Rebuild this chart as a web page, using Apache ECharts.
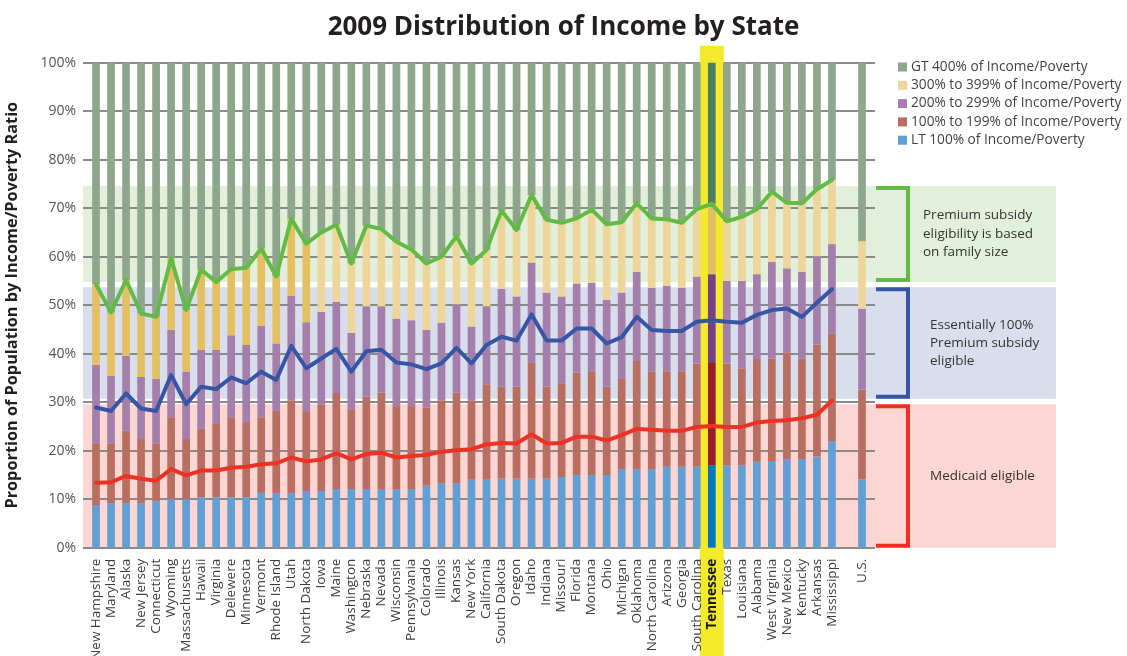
<!DOCTYPE html>
<html>
<head>
<meta charset="utf-8">
<script src="https://cdn.jsdelivr.net/npm/echarts@6/dist/echarts.min.js"></script>
<style>
  html, body { margin: 0; padding: 0; background: #ffffff; }
  #chart { width: 1127px; height: 656px; }
</style>
</head>
<body>
<div id="chart"></div>
<script>
// Categories: 50 states, a spacer column, then the U.S. total
const states = [
  'New Hampshire', 'Maryland', 'Alaska', 'New Jersey', 'Connecticut', 'Wyoming', 'Massachusetts',
  'Hawaii', 'Virginia', 'Delewere', 'Minnesota', 'Vermont', 'Rhode Island', 'Utah', 'North Dakota',
  'Iowa', 'Maine', 'Washington', 'Nebraska', 'Nevada', 'Wisconsin', 'Pennsylvania', 'Colorado',
  'Illinois', 'Kansas', 'New York', 'California', 'South Dakota', 'Oregon', 'Idaho', 'Indiana',
  'Missouri', 'Florida', 'Montana', 'Ohio', 'Michigan', 'Oklahoma', 'North Carolina', 'Arizona',
  'Georgia', 'South Carolina', 'Tennessee', 'Texas', 'Louisiana', 'Alabama', 'West Virginia',
  'New Mexico', 'Kentucky', 'Arkansas', 'Mississippi', '', 'U.S.'
];
const highlightState = 'Tennessee';

// Share of population (%) in each income-to-poverty bracket
const ltPoverty100 = [
  8.8, 9.2, 9.2, 9.2, 9.6, 10.0, 10.0, 10.4, 10.4, 10.4, 10.4, 11.3, 11.3, 11.3, 11.7, 11.7, 12.1,
  12.1, 12.1, 12.1, 12.1, 12.1, 12.8, 13.3, 13.3, 14.0, 14.0, 14.2, 14.2, 14.2, 14.2, 14.6, 15.0,
  15.0, 15.0, 16.2, 16.2, 16.2, 16.7, 16.7, 16.7, 17.0, 17.0, 17.0, 17.7, 17.7, 18.3, 18.3, 18.8,
  22.0, null, 14.1
];
const pov100to199 = [
  12.6, 12.2, 14.9, 13.2, 11.8, 16.9, 12.4, 14.1, 15.1, 16.5, 15.5, 15.6, 16.9, 19.1, 16.3, 17.9, 19.8,
  16.3, 19.0, 19.9, 17.1, 17.1, 16.1, 17.1, 18.7, 16.4, 19.7, 19.0, 19.0, 23.9, 19.0, 19.3, 21.1,
  21.4, 18.2, 18.6, 22.3, 20.2, 19.7, 19.7, 21.3, 21.1, 21.0, 20.0, 21.2, 21.3, 22.0, 20.7, 23.1,
  22.2, null, 18.5
];
const pov200to299 = [
  16.3, 14.0, 15.5, 12.8, 13.4, 18.0, 13.9, 16.3, 15.3, 16.9, 15.9, 18.8, 13.9, 21.5, 18.5, 19.0, 18.8,
  15.9, 18.7, 17.8, 18.0, 17.7, 16.0, 16.0, 18.2, 15.2, 16.1, 20.2, 18.6, 20.7, 19.4, 17.9, 18.4,
  18.2, 17.9, 17.8, 18.4, 17.2, 17.6, 17.2, 17.9, 18.3, 17.0, 18.0, 17.5, 19.9, 17.3, 17.9, 18.2,
  18.4, null, 16.7
];
const pov300to399 = [
  16.6, 13.1, 15.6, 13.1, 12.8, 14.8, 12.7, 16.5, 14.0, 13.6, 15.9, 16.0, 13.8, 15.9, 16.2, 16.4, 15.9,
  14.3, 16.6, 15.9, 15.9, 14.6, 13.7, 13.6, 14.0, 13.0, 11.6, 16.1, 13.7, 13.9, 15.0, 15.2, 13.4,
  15.1, 15.6, 14.5, 14.1, 14.3, 13.7, 13.4, 13.9, 14.5, 12.3, 13.2, 13.4, 14.5, 13.5, 14.1, 13.8,
  13.2, null, 13.9
];
const gtPoverty400 = [
  45.7, 51.5, 44.8, 51.7, 52.4, 40.3, 51.0, 42.7, 45.2, 42.6, 42.3, 38.3, 44.1, 32.2, 37.3, 35.0, 33.4,
  41.4, 33.6, 34.3, 36.9, 38.5, 41.4, 40.0, 35.8, 41.4, 38.6, 30.5, 34.5, 27.3, 32.4, 33.0, 32.1,
  30.3, 33.3, 32.9, 29.0, 32.1, 32.3, 33.0, 30.2, 29.1, 32.7, 31.8, 30.2, 26.6, 28.9, 29.0, 26.1,
  24.2, null, 36.8
];

// Eligibility threshold lines (% of population below each cut-off), states only
const medicaidLine = [
  13.4, 13.5, 14.8, 14.2, 13.8, 16.2, 14.9, 15.9, 15.9, 16.5, 16.7, 17.2, 17.4, 18.6, 17.8, 18.2, 19.5,
  18.2, 19.3, 19.6, 18.6, 18.9, 19.1, 19.8, 20.1, 20.3, 21.3, 21.6, 21.5, 23.4, 21.5, 21.6, 22.9,
  22.9, 22.1, 23.2, 24.5, 24.3, 24.1, 24.1, 24.9, 25.1, 24.9, 24.9, 25.8, 26.1, 26.3, 26.7, 27.4, 30.3
];
const fullSubsidyLine = [
  28.9, 28.2, 31.8, 28.7, 28.2, 35.6, 29.6, 33.2, 32.7, 35.1, 33.9, 36.3, 34.6, 41.6, 37.0, 39.0, 41.0,
  36.3, 40.5, 40.8, 38.2, 37.8, 36.8, 38.0, 41.2, 38.0, 41.8, 43.5, 42.7, 48.1, 42.7, 42.7, 45.2,
  45.2, 42.1, 43.4, 47.6, 44.9, 44.7, 44.7, 46.6, 46.9, 46.6, 46.4, 48.0, 49.0, 49.3, 47.6, 50.5, 53.3
];
const familySubsidyLine = [
  54.3, 48.5, 55.2, 48.3, 47.6, 59.7, 49.0, 57.3, 54.8, 57.4, 57.7, 61.7, 55.9, 67.8, 62.7, 65.0, 66.6,
  58.6, 66.4, 65.7, 63.1, 61.5, 58.6, 60.0, 64.2, 58.6, 61.4, 69.5, 65.5, 72.7, 67.6, 67.0, 67.9,
  69.7, 66.7, 67.1, 71.0, 67.9, 67.7, 67.0, 69.8, 70.9, 67.3, 68.2, 69.8, 73.4, 71.1, 71.0, 73.9, 75.8
];

// Eligibility zones (% range) with their notes, bottom to top
const zoneRanges = [[0, 29.6], [30.7, 53.7], [54.8, 74.6]];
const zoneNotes = [
  'Medicaid eligible',
  'Essentially 100%\nPremium subsidy\neligible',
  'Premium subsidy\neligibility is based\non family size'
];

const yMax = 100;
const yStep = 10;
const highlightTop = 103.5;

const FONT = '"Open Sans", "DejaVu Sans", sans-serif';
const tnIndex = states.indexOf(highlightState);
const earlyGoldCount = 15; // first columns use the deeper gold tone

const zoneFill = ['#fbd6d3', '#d9deed', '#e2efda'];
const zoneStroke = ['#ee3124', '#3656a5', '#63bb46'];

function barSeries(name, values, color, tnColor, earlyColor) {
  return {
    name: name,
    type: 'bar',
    stack: 'share',
    xAxisIndex: 0,
    yAxisIndex: 0,
    barWidth: 7.7,
    z: 4,
    silent: true,
    itemStyle: { color: color },
    data: values.map(function (v, i) {
      if (v == null) return '-';
      if (i === tnIndex) return { value: v, itemStyle: { color: tnColor } };
      if (earlyColor && i < earlyGoldCount) return { value: v, itemStyle: { color: earlyColor } };
      return v;
    })
  };
}

function lineSeries(values, color) {
  return {
    type: 'line',
    xAxisIndex: 0,
    yAxisIndex: 0,
    data: values,
    symbol: 'none',
    silent: true,
    z: 5,
    lineStyle: { color: color, width: 4, join: 'round', cap: 'round' }
  };
}

const chart = echarts.init(document.getElementById('chart'), null, { renderer: 'canvas' });

const option = {
  animation: false,
  backgroundColor: '#ffffff',
  title: {
    text: '2009 Distribution of Income by State',
    left: 'center',
    top: 10,
    textStyle: { fontFamily: FONT, fontWeight: 'bold', fontSize: 26, color: '#231f20' }
  },
  legend: {
    orient: 'vertical',
    left: 893,
    top: 55,
    itemWidth: 9,
    itemHeight: 9,
    itemGap: 4.3,
    icon: 'rect',
    selectedMode: false,
    data: [
      'GT 400% of Income/Poverty',
      '300% to 399% of Income/Poverty',
      '200% to 299% of Income/Poverty',
      '100% to 199% of Income/Poverty',
      'LT 100% of Income/Poverty'
    ],
    textStyle: { fontFamily: FONT, fontSize: 13.7, color: '#444444', padding: [0, 0, 0, -1] }
  },
  grid: [
    // bars and threshold lines
    { left: 88.5, width: 781, top: 62.7, height: 485, outerBoundsMode: 'none', containLabel: false },
    // value gridlines and percent labels
    { left: 83, width: 792, top: 62.7, height: 485, outerBoundsMode: 'none', containLabel: false },
    // eligibility zones, brackets and notes
    { left: 83, width: 973, top: 62.7, height: 485, outerBoundsMode: 'none', containLabel: false }
  ],
  xAxis: [
    {
      type: 'category',
      gridIndex: 0,
      z: 6,
      data: states.map(function (s) {
        return s === highlightState
          ? { value: s, textStyle: { fontWeight: 'bold', color: '#1a1a1a' } }
          : s;
      }),
      axisLine: { show: false },
      axisTick: { show: false },
      axisLabel: {
        interval: 0,
        rotate: 90,
        margin: 11,
        fontFamily: FONT,
        fontSize: 13.5,
        color: '#3d3d3d'
      }
    },
    { type: 'value', gridIndex: 1, show: false, min: 0, max: 1 },
    { type: 'value', gridIndex: 2, show: false, min: 0, max: 2 }
  ],
  yAxis: [
    { type: 'value', gridIndex: 0, min: 0, max: yMax, show: false },
    {
      type: 'value',
      gridIndex: 1,
      min: 0,
      max: yMax,
      interval: yStep,
      z: 2,
      name: 'Proportion of Population by Income/Poverty Ratio',
      nameLocation: 'middle',
      nameGap: 63,
      nameRotate: 90,
      nameTextStyle: { fontFamily: FONT, fontWeight: 'bold', fontSize: 16.3, color: '#231f20' },
      axisLine: { show: false },
      axisTick: { show: false },
      axisLabel: { formatter: '{value}%', margin: 7, fontFamily: FONT, fontSize: 14, color: '#555555' },
      splitLine: { show: true, lineStyle: { color: '#8a8a8a', width: 2 } }
    },
    { type: 'value', gridIndex: 2, min: 0, max: yMax, show: false }
  ],
  series: [
    {
      type: 'custom',
      xAxisIndex: 2,
      yAxisIndex: 2,
      z: 1,
      silent: true,
      clip: false,
      encode: { x: 0, y: [1, 2] },
      data: zoneRanges.map(function (r, i) { return [i, r[0], r[1]]; }),
      renderItem: function (params, api) {
        const i = params.dataIndex;
        const cs = params.coordSys;
        const yTop = api.coord([0, api.value(2)])[1];
        const yBot = api.coord([0, api.value(1)])[1];
        const bx0 = cs.x + 793;
        const bx1 = cs.x + 825;
        return {
          type: 'group',
          children: [
            {
              type: 'rect',
              shape: { x: cs.x, y: yTop, width: cs.width, height: yBot - yTop },
              style: { fill: zoneFill[i] }
            },
            {
              type: 'polyline',
              shape: { points: [[bx0, yTop + 2], [bx1, yTop + 2], [bx1, yBot - 2], [bx0, yBot - 2]] },
              style: { stroke: zoneStroke[i], lineWidth: 4, fill: null, lineJoin: 'miter' }
            },
            {
              type: 'text',
              style: {
                x: cs.x + (i === 2 ? 840 : 847),
                y: (yTop + yBot) / 2,
                text: zoneNotes[i],
                align: 'left',
                verticalAlign: 'middle',
                fontFamily: FONT,
                fontSize: 13.5,
                lineHeight: 18.3,
                fill: '#333333'
              }
            }
          ]
        };
      }
    },
    {
      type: 'custom',
      xAxisIndex: 0,
      yAxisIndex: 0,
      z: 3,
      silent: true,
      clip: false,
      encode: { x: 0, y: 1 },
      data: [[tnIndex, highlightTop]],
      renderItem: function (params, api) {
        const p = api.coord([api.value(0), api.value(1)]);
        const w = api.size([1, 0])[0] * 1.6;
        return {
          type: 'rect',
          shape: { x: p[0] - w / 2, y: p[1], width: w, height: api.getHeight() - p[1] },
          style: { fill: '#f4ea2c' }
        };
      }
    },
    barSeries('LT 100% of Income/Poverty', ltPoverty100, '#619fd4', '#0077c0'),
    barSeries('100% to 199% of Income/Poverty', pov100to199, '#b86e60', '#9b1b2b'),
    barSeries('200% to 299% of Income/Poverty', pov200to299, '#a47fab', '#773f87'),
    barSeries('300% to 399% of Income/Poverty', pov300to399, '#eed69b', '#e3bf63', '#e5c062'),
    barSeries('GT 400% of Income/Poverty', gtPoverty400, '#8ea78c', '#4d8060'),
    lineSeries(medicaidLine, '#ee3124'),
    lineSeries(fullSubsidyLine, '#3656a5'),
    lineSeries(familySubsidyLine, '#63bb46')
  ]
};

chart.setOption(option);
</script>
</body>
</html>
